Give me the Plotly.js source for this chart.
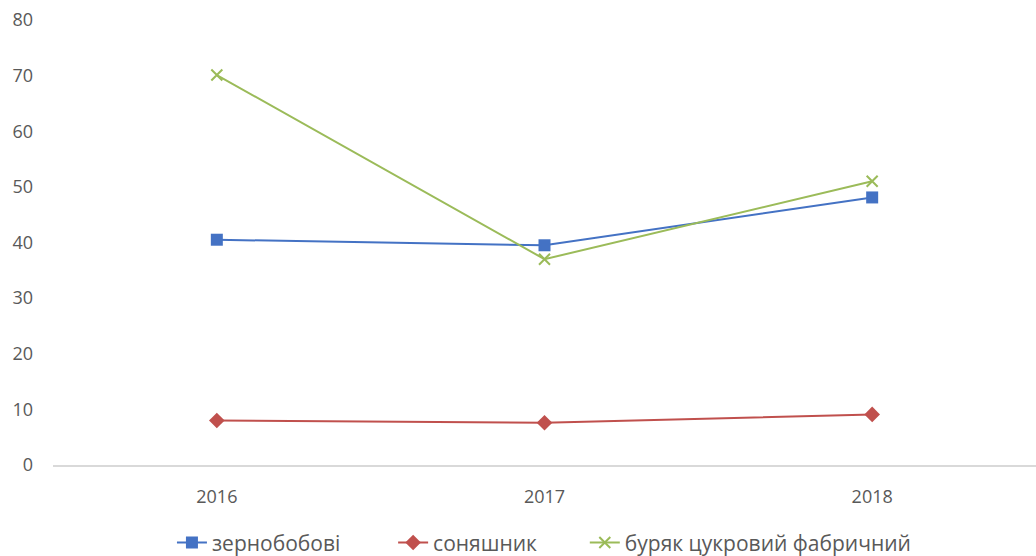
<!DOCTYPE html>
<html>
<head>
<meta charset="utf-8">
<script src="https://cdn.plot.ly/plotly-3.0.1.min.js"></script>
<style>html,body{margin:0;padding:0;background:#fff;}#chart{width:1036px;height:556px;}</style>
</head>
<body>
<div id="chart"></div>
<script>
const years = ["2016", "2017", "2018"];
const seriesNames = ["зернобобові", "соняшник", "буряк цукровий фабричний"];
const zernobobovi = [40.5, 39.5, 48.1];
const sonyashnyk = [8.0, 7.6, 9.1];
const buryak = [70.1, 37.0, 51.0];
const yTicks = [0, 10, 20, 30, 40, 50, 60, 70, 80];

const traces = [
  {x: years, y: zernobobovi, name: seriesNames[0], type: "scatter", mode: "lines+markers", legend: "legend",
   line: {color: "#4472C4", width: 2}, marker: {symbol: "square", size: 12, color: "#4472C4"}},
  {x: years, y: sonyashnyk, name: seriesNames[1], type: "scatter", mode: "lines+markers", legend: "legend2",
   line: {color: "#C0504D", width: 2}, marker: {symbol: "diamond", size: 12, color: "#C0504D"}},
  {x: years, y: buryak, name: seriesNames[2], type: "scatter", mode: "lines+markers", legend: "legend3",
   line: {color: "#9BBB59", width: 2}, marker: {symbol: "x-thin", size: 11, color: "#9BBB59", line: {color: "#9BBB59", width: 2}}}
];

function leg(xp) {
  return {orientation: "h", x: xp, xanchor: "left", y: -0.175, yanchor: "middle",
          font: {size: 21, color: "#595959"}, bgcolor: "rgba(0,0,0,0)"};
}

const layout = {
  width: 1036, height: 556,
  margin: {l: 53, r: 0, t: 20, b: 91, autoexpand: false},
  paper_bgcolor: "#fff", plot_bgcolor: "#fff",
  font: {family: "Open Sans, sans-serif", size: 18, color: "#595959"},
  showlegend: true,
  legend: leg(0.121),
  legend2: leg(0.346),
  legend3: leg(0.541),
  xaxis: {type: "category", range: [-0.5, 2.5], showgrid: false, zeroline: false,
          showline: true, linecolor: "#D9D9D9", linewidth: 2, ticks: "", ticklabelstandoff: 14,
          tickfont: {size: 18, color: "#595959"}},
  yaxis: {range: [0, 80], tickvals: yTicks, showgrid: false, zeroline: false, showline: false,
          ticks: "", tickfont: {size: 18, color: "#595959"}, ticklabelstandoff: 19}
};

Plotly.newPlot("chart", traces, layout, {displayModeBar: false});
</script>
</body>
</html>
